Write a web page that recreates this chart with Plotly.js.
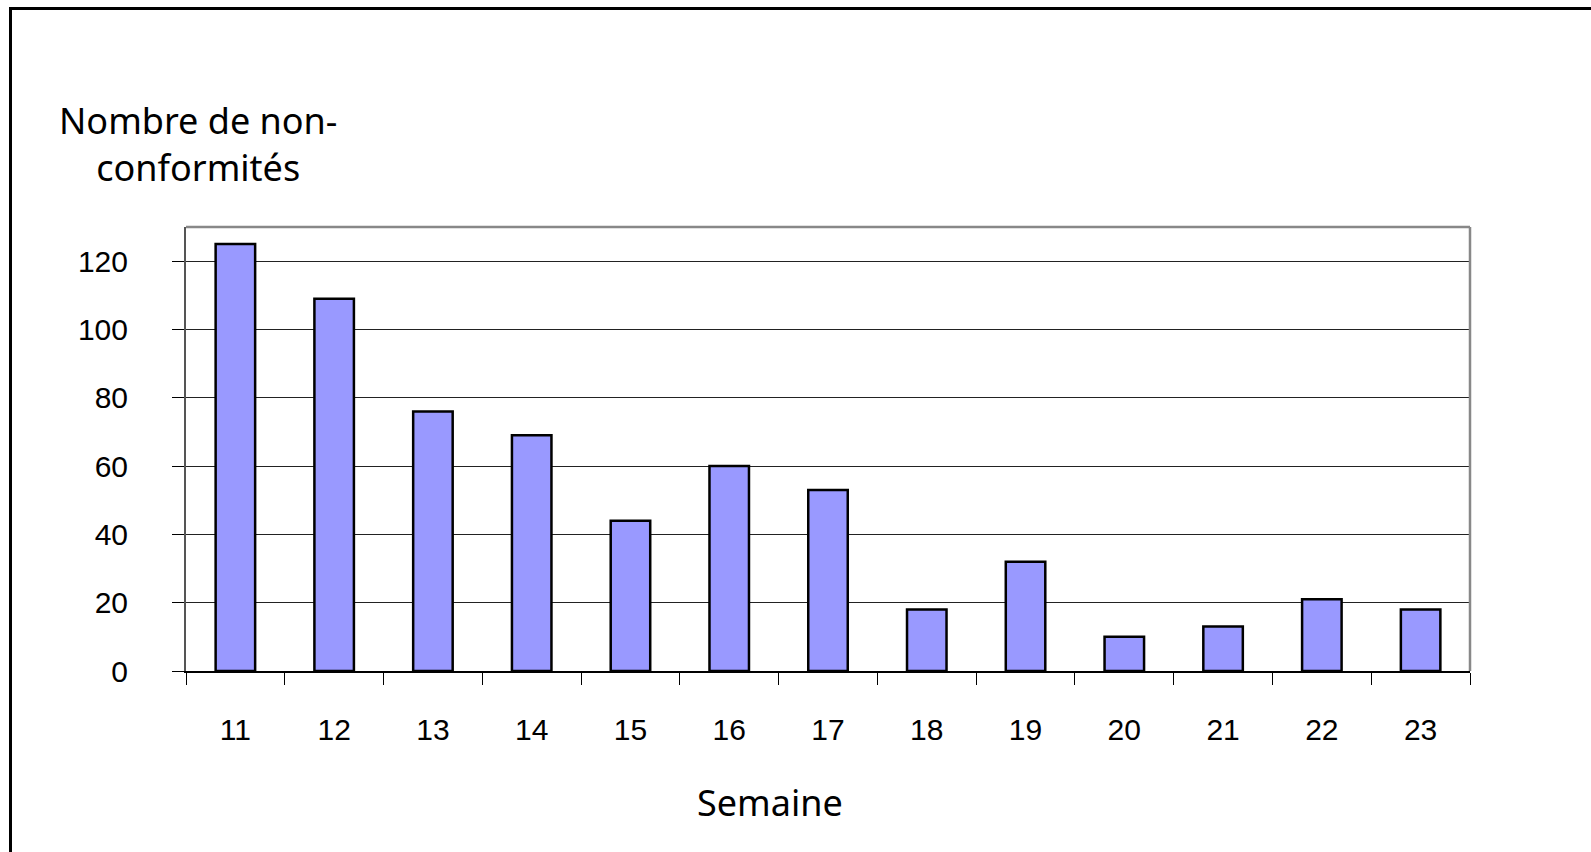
<!DOCTYPE html>
<html>
<head>
<meta charset="utf-8">
<script src="https://cdn.plot.ly/plotly-3.0.1.min.js"></script>
<style>
  html, body { margin: 0; padding: 0; background: #fff; }
  #wrap { position: relative; width: 1591px; height: 852px; overflow: hidden; }
  #chart { width: 1591px; height: 852px; }
  #frame { position: absolute; left: 9px; top: 7px; right: -10px; bottom: -10px;
           border-left: 3px solid #000; border-top: 3px solid #000; pointer-events: none; }
</style>
</head>
<body>
<div id="wrap">
  <div id="chart"></div>
  <div id="frame"></div>
</div>
<script>
const weeks = ["11","12","13","14","15","16","17","18","19","20","21","22","23"];
const nonConformites = [125, 109, 76, 69, 44, 60, 53, 18, 32, 10, 13, 21, 18];
const yTicks = [0, 20, 40, 60, 80, 100, 120];
const yTitle = "Nombre de non-<br>conformités";
const xTitle = "Semaine";

const titleFont = { family: "Comic Sans MS, Noto Sans, sans-serif", size: 36, color: "#000" };
const tickFont = { family: "Liberation Sans, Arial, sans-serif", size: 30, color: "#000" };

const trace = {
  type: "bar",
  x: weeks,
  y: nonConformites,
  width: 0.4,
  marker: { color: "#9999FF", line: { color: "#000", width: 2.5 } },
  hoverinfo: "x+y"
};

const layout = {
  width: 1591, height: 852,
  margin: { l: 186, r: 121, t: 227, b: 181, pad: 0 },
  paper_bgcolor: "#fff", plot_bgcolor: "#fff",
  showlegend: false,
  font: tickFont,
  xaxis: {
    type: "category",
    tickson: "boundaries",
    ticks: "outside", ticklen: 12, tickwidth: 1, tickcolor: "#000",
    showline: true, linecolor: "#000", linewidth: 1.5,
    showgrid: false, zeroline: false,
    ticklabelstandoff: 31,
    tickfont: tickFont
  },
  yaxis: {
    range: [0, 130],
    tickvals: yTicks,
    ticktext: yTicks.map(String),
    ticks: "outside", ticklen: 12, tickwidth: 1, tickcolor: "#000",
    showline: true, linecolor: "#555", linewidth: 2,
    showgrid: true, gridcolor: "#222", gridwidth: 1,
    zeroline: false,
    ticklabelstandoff: 38,
    tickfont: tickFont
  },
  shapes: [
    { type: "line", xref: "paper", yref: "paper", x0: 0, x1: 1, y0: 1, y1: 1,
      line: { color: "#888", width: 2.5 } },
    { type: "line", xref: "paper", yref: "paper", x0: 1, x1: 1, y0: 0, y1: 1,
      line: { color: "#888", width: 2.5 } }
  ],
  annotations: [
    { text: yTitle, xref: "paper", yref: "paper", x: 0.009, y: 1.188,
      xanchor: "center", yanchor: "middle", showarrow: false, align: "center",
      font: titleFont },
    { text: xTitle, xref: "paper", yref: "paper", x: 0.455, y: -0.297,
      xanchor: "center", yanchor: "middle", showarrow: false,
      font: titleFont }
  ]
};

Plotly.newPlot("chart", [trace], layout, { displayModeBar: false, staticPlot: true });
</script>
</body>
</html>
